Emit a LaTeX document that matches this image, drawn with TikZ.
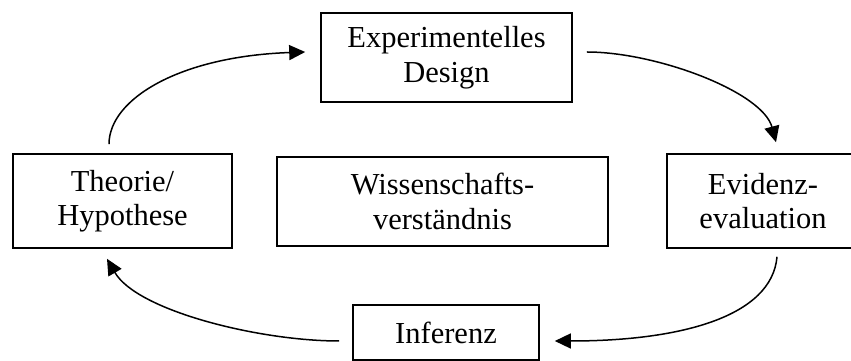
\documentclass[tikz,border=0pt]{standalone}
\usepackage{fontspec}
\setmainfont{Liberation Serif}
\usetikzlibrary{arrows.meta,calc}

\begin{document}
\begin{tikzpicture}[x=1pt, y=1pt,
  box/.style={draw, line width=1.6pt, align=center, inner sep=0pt,
    font=\fontsize{30.5}{34.5}\selectfont},
  pfeil/.style={line width=1.5pt, -{Triangle[length=16pt,width=15pt]}}]
  \useasboundingbox (0, 0) rectangle (851, 361);

  \node[box, minimum width=251pt, minimum height=89pt] (design) at (446.5, 303.5) {Experimentelles\\Design};
  \node[box, minimum width=219pt, minimum height=94pt] (theorie) at (122.5, 160) {Theorie/\\Hypothese};
  \node[box, minimum width=331pt, minimum height=89pt] (wissen) at (442.5, 159.5) {Wissenschafts-\\verständnis};
  \node[box, minimum width=192pt, minimum height=94pt] (evidenz) at (763, 160) {Evidenz-\\evaluation};
  \node[box, minimum width=186pt, minimum height=55pt] (inferenz) at (446, 28.5) {Inferenz};

  \draw[pfeil] ($(theorie.north)+(-13.5, 9)$) .. controls +(90:45) and +(182:126) .. ($(design.west)+(-15, 5.5)$);
  \draw[pfeil] ($(design.east)+(14, 5.5)$) .. controls +(0:70) and +(105:52) .. ($(evidenz.north)+(13, 11)$);
  \draw[pfeil] ($(evidenz.south)+(14, -8)$) .. controls +(265:60) and +(0:126) .. ($(inferenz.east)+(15, -8.5)$);
  \draw[pfeil] ($(inferenz.west)+(-13, -8.5)$) .. controls +(180:80) and +(-60:60) .. ($(theorie.south)+(-15.5, -10)$);
\end{tikzpicture}
\end{document}
